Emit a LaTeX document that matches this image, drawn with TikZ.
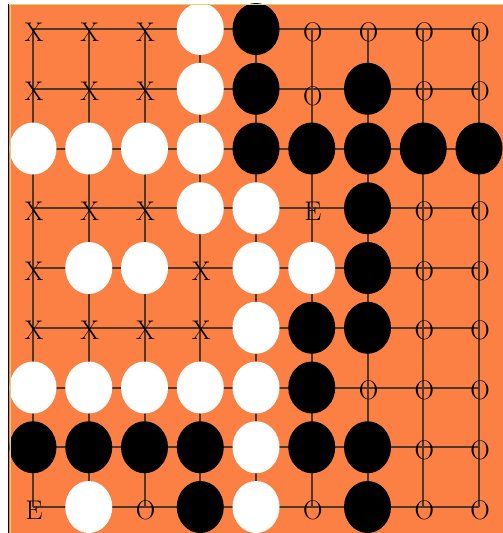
\documentclass[tikz,border=0pt]{standalone}
\usetikzlibrary{shapes.geometric}
\definecolor{boardorange}{RGB}{252,128,68}
\definecolor{gridcol}{RGB}{80,55,45}
\definecolor{edgeyellow}{RGB}{214,214,110}
\begin{document}
\begin{tikzpicture}[x=1pt,y=-1pt,
  wst/.style={ellipse,fill=white,minimum width=47pt,minimum height=52pt,inner sep=0pt},
  bst/.style={ellipse,fill=black,minimum width=47pt,minimum height=52pt,inner sep=0pt},
  lab/.style={font=\fontsize{27}{27}\selectfont,inner sep=0pt,yshift=-3pt,xshift=1pt},
  gridline/.style={draw=gridcol,line width=2pt}]
\useasboundingbox (0,0) rectangle (503,533);
\fill[white] (0,0) rectangle (503,533);
\fill[boardorange] (9,4) rectangle (503,533);
% grid
\foreach \i in {0,...,8}{
  \coordinate (vt\i) at ({33+\i*55.75},29);
  \coordinate (vb\i) at ({33+\i*55.75},507);
  \coordinate (hl\i) at (33,{29+\i*59.75});
  \coordinate (hr\i) at (479,{29+\i*59.75});
  \draw[gridline] (vt\i) -- (vb\i);
  \draw[gridline] (hl\i) -- (hr\i);
}
% stones
\foreach \r/\c/\s in {1/4/wst,1/5/bst,
  2/4/wst,2/5/bst,2/7/bst,
  3/1/wst,3/2/wst,3/3/wst,3/4/wst,3/5/bst,3/6/bst,3/7/bst,3/8/bst,3/9/bst,
  4/4/wst,4/5/wst,4/7/bst,
  5/2/wst,5/3/wst,5/5/wst,5/6/wst,5/7/bst,
  6/5/wst,6/6/bst,6/7/bst,
  7/1/wst,7/2/wst,7/3/wst,7/4/wst,7/5/wst,7/6/bst,
  8/1/bst,8/2/bst,8/3/bst,8/4/bst,8/5/wst,8/6/bst,8/7/bst,
  9/2/wst,9/4/bst,9/5/wst,9/7/bst}{
  \node[\s] (s\r-\c) at ({33+(\c-1)*55.75},{29+(\r-1)*59.75}) {};
}
% labels
\foreach \r/\c/\t in {1/1/X,1/2/X,1/3/X,1/6/O,1/7/O,1/8/O,1/9/O,
  2/1/X,2/2/X,2/3/X,2/8/O,2/9/O,
  4/1/X,4/2/X,4/3/X,4/6/E,4/8/O,4/9/O,
  5/1/X,5/4/X,5/8/O,5/9/O,
  6/1/X,6/2/X,6/3/X,6/4/X,6/8/O,6/9/O,
  7/7/O,7/8/O,7/9/O,
  8/8/O,8/9/O,
  9/1/E,9/3/O,9/6/O,9/8/O,9/9/O}{
  \node[lab] (l\r-\c) at ({33+(\c-1)*55.75},{29+(\r-1)*59.75}) {\t};
}
\node[lab,yshift=-5pt] (l2-6) at ({33+5*55.75},{29+59.75}) {O};
% edges
\draw[edgeyellow,line width=1.2pt] (9,4.6) -- (503,4.6);
\draw[edgeyellow,line width=1pt] (10.2,4) -- (10.2,533);
\draw[black,line width=1.3pt] (8.6,3.8) -- (8.6,533);
\end{tikzpicture}
\end{document}
